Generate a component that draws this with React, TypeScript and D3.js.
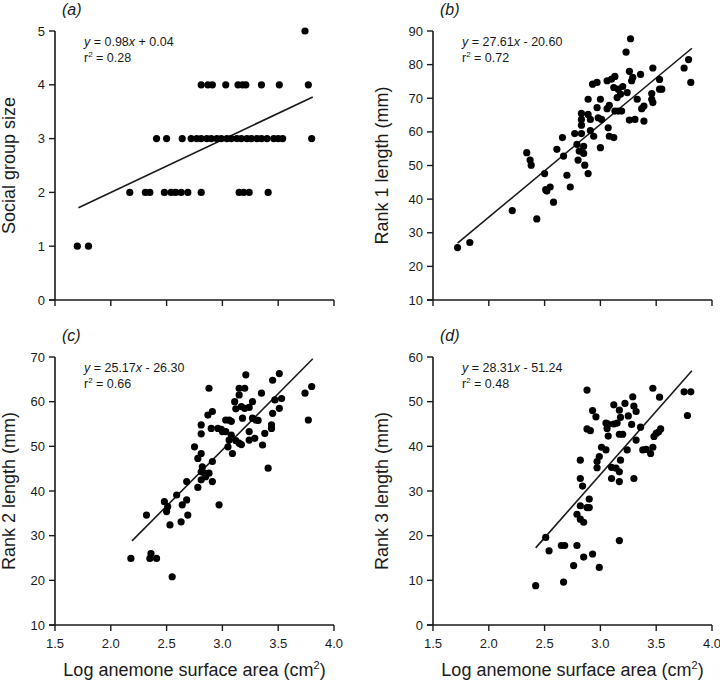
import React from 'react';
import * as d3 from 'd3';

// ---------- data ----------
const xTicks = [1.5, 2.0, 2.5, 3.0, 3.5, 4.0];
const xDomain: [number, number] = [1.5, 4.0];
const xTitle = 'Log anemone surface area (cm';

const panelLabels = ['(a)', '(b)', '(c)', '(d)'];
const yTitles = ['Social group size', 'Rank 1 length (mm)', 'Rank 2 length (mm)', 'Rank 3 length (mm)'];
const yDomains: [number, number][] = [[0, 5], [10, 90], [10, 70], [0, 60]];
const yTicksA = [0, 1, 2, 3, 4, 5];
const yTicksB = [10, 20, 30, 40, 50, 60, 70, 80, 90];
const yTicksC = [10, 20, 30, 40, 50, 60, 70];
const yTicksD = [0, 10, 20, 30, 40, 50, 60];

const slopes = ['0.98', '27.61', '25.17', '28.31'];
const intercepts = ['+ 0.04', '- 20.60', '- 26.30', '- 51.24'];
const slopeVals = [0.98, 27.61, 25.17, 28.31];
const interceptVals = [0.04, -20.6, -26.3, -51.24];
const r2Values = ['0.28', '0.72', '0.66', '0.48'];
const fitRanges: [number, number][] = [[1.71, 3.81], [1.72, 3.82], [2.19, 3.81], [2.42, 3.82]];

const pointsA: [number, number][] = [
  [1.70, 1], [1.80, 1],
  [2.17, 2], [2.31, 2], [2.35, 2], [2.48, 2], [2.54, 2], [2.58, 2], [2.63, 2], [2.69, 2], [2.81, 2],
  [3.15, 2], [3.19, 2], [3.24, 2], [3.41, 2],
  [2.41, 3], [2.50, 3], [2.64, 3], [2.72, 3], [2.77, 3], [2.81, 3], [2.86, 3], [2.90, 3], [2.95, 3],
  [2.99, 3], [3.04, 3], [3.08, 3], [3.13, 3], [3.17, 3], [3.22, 3], [3.26, 3], [3.31, 3], [3.35, 3],
  [3.40, 3], [3.46, 3], [3.50, 3], [3.54, 3], [3.80, 3],
  [2.81, 4], [2.87, 4], [2.91, 4], [3.03, 4], [3.14, 4], [3.18, 4], [3.21, 4], [3.35, 4], [3.51, 4], [3.77, 4],
  [3.74, 5],
];

const pointsB: [number, number][] = [
  [3.27, 87.7], [3.23, 83.7], [3.79, 81.5], [3.75, 79.0], [3.81, 74.7], [3.47, 79.0], [3.26, 78.0],
  [3.29, 76.2], [3.36, 77.1], [3.28, 75.2], [3.53, 75.6], [3.13, 76.5], [3.10, 75.7], [3.06, 75.2],
  [2.97, 74.7], [2.93, 74.2], [3.12, 73.2], [3.16, 72.7], [3.20, 73.5], [3.53, 72.7], [3.55, 72.7],
  [3.24, 71.7], [3.18, 71.2], [3.15, 70.2], [3.33, 69.7], [3.46, 71.4], [3.46, 69.7], [3.47, 68.7],
  [2.89, 69.7], [3.00, 69.7], [3.08, 67.9], [3.13, 66.2], [3.16, 66.2], [3.19, 66.2], [2.97, 67.2],
  [2.83, 65.5], [2.89, 65.2], [2.83, 63.7], [2.91, 63.7], [2.98, 64.2], [3.01, 63.7], [3.06, 66.9],
  [3.39, 67.7], [3.37, 66.9], [3.31, 63.7], [3.26, 63.5], [3.39, 63.2], [2.83, 62.0], [2.91, 60.4],
  [3.07, 61.2], [2.77, 59.5], [2.83, 59.5], [2.66, 58.3], [2.94, 58.7], [3.08, 58.7], [3.12, 58.3],
  [2.79, 56.3], [2.85, 55.7], [3.00, 55.3], [2.61, 54.8], [2.81, 54.3], [2.34, 53.8], [2.67, 52.8],
  [2.37, 51.6], [2.38, 50.1], [2.50, 47.6], [2.80, 51.6], [2.85, 53.6], [2.86, 50.1], [2.89, 47.6],
  [2.70, 47.1], [2.73, 43.6], [2.51, 42.8], [2.52, 42.4], [2.55, 43.6], [2.58, 39.1], [2.21, 36.6],
  [2.43, 34.1], [1.83, 27.1], [1.72, 25.6],
];

const pointsC: [number, number][] = [
  [3.51, 66.3], [3.21, 66.0], [3.45, 64.8], [3.80, 63.4], [3.74, 61.9], [2.88, 63.0], [3.15, 63.0],
  [3.20, 63.0], [3.35, 61.9], [3.15, 61.5], [3.53, 60.7], [3.47, 60.4], [3.11, 60.0], [3.27, 60.0],
  [3.17, 58.9], [3.20, 58.5], [3.12, 58.4], [3.24, 58.7], [3.51, 58.5], [2.91, 57.8], [2.87, 57.0],
  [3.45, 57.4], [3.18, 56.3], [3.03, 55.9], [3.06, 55.9], [3.08, 55.6], [3.27, 56.3], [3.30, 55.9],
  [3.32, 55.8], [3.77, 55.9], [2.81, 54.8], [2.90, 54.0], [2.96, 54.0], [2.99, 53.8], [3.44, 54.8],
  [3.44, 54.0], [3.00, 53.3], [3.03, 53.3], [3.08, 52.5], [2.81, 52.8], [3.24, 53.3], [3.38, 52.9],
  [3.06, 51.4], [3.12, 51.3], [3.15, 50.7], [3.17, 50.4], [3.24, 51.4], [3.29, 51.8], [3.36, 50.3],
  [2.75, 49.9], [3.05, 49.9], [2.81, 48.4], [2.78, 47.3], [3.09, 48.4], [2.91, 46.6], [2.82, 45.4],
  [3.41, 45.1], [2.81, 44.3], [2.84, 44.0], [2.88, 44.0], [2.85, 43.2], [2.81, 42.5], [2.68, 42.1],
  [2.91, 42.1], [2.78, 40.8], [2.59, 39.1], [2.48, 37.6], [2.51, 36.5], [2.50, 35.4], [2.64, 36.9],
  [2.68, 38.0], [2.97, 36.9], [2.32, 34.6], [2.69, 34.6], [2.53, 32.4], [2.63, 33.1], [2.18, 24.9],
  [2.35, 24.9], [2.36, 26.0], [2.41, 24.9], [2.55, 20.8],
];

const pointsD: [number, number][] = [
  [2.88, 52.6], [3.47, 53.0], [3.75, 52.2], [3.81, 52.2], [3.53, 51.0], [3.29, 51.1], [3.22, 49.6],
  [3.12, 49.3], [3.30, 49.0], [3.17, 48.1], [3.32, 47.8], [2.93, 48.0], [3.25, 46.8], [2.96, 46.6],
  [3.18, 46.5], [3.78, 46.9], [3.05, 45.2], [3.07, 45.0], [3.12, 45.0], [3.15, 45.2], [3.28, 44.9],
  [3.06, 44.0], [3.36, 44.3], [2.88, 43.9], [2.91, 43.5], [3.54, 43.9], [3.52, 43.2], [3.07, 42.3],
  [3.17, 42.7], [3.20, 42.7], [3.48, 42.2], [3.50, 42.9], [3.32, 41.4], [3.01, 39.8], [3.05, 39.2],
  [3.24, 39.2], [3.38, 39.2], [3.41, 39.3], [3.47, 39.8], [3.45, 38.4], [2.99, 37.7], [2.82, 36.9],
  [2.97, 36.6], [3.18, 36.9], [2.97, 35.2], [3.10, 35.3], [3.14, 35.1], [3.17, 34.3], [2.82, 32.8],
  [3.10, 32.8], [3.30, 32.8], [3.17, 32.1], [2.84, 31.1], [2.90, 28.2], [2.82, 26.7], [2.88, 26.3],
  [2.90, 26.3], [2.79, 24.8], [2.82, 23.7], [2.85, 23.0], [2.51, 19.6], [3.17, 18.9], [2.54, 16.6],
  [2.65, 17.8], [2.68, 17.8], [2.79, 17.8], [2.93, 15.9], [2.85, 15.2], [2.76, 13.3], [2.99, 12.9],
  [2.67, 9.6], [2.42, 8.8],
];

const allPoints = [pointsA, pointsB, pointsC, pointsD];
const allYTicks = [yTicksA, yTicksB, yTicksC, yTicksD];

// ---------- layout ----------
const W = 720;
const H = 681;
const FONT = '"Liberation Sans", Arial, Helvetica, sans-serif';
const INK = '#1a1a1a';
const colX = [[55, 334], [433, 712]];
const rowY = [[300, 31], [625, 357]];

type PanelProps = { i: number };

function Panel({ i }: PanelProps) {
  const col = i % 2;
  const row = Math.floor(i / 2);
  const [xl, xr] = colX[col];
  const [yb, yt] = rowY[row];
  const x = d3.scaleLinear().domain(xDomain).range([xl, xr]);
  const y = d3.scaleLinear().domain(yDomains[i]).range([yb, yt]);
  const pts = allPoints[i];
  const yTicks = allYTicks[i];
  const showXLabels = row === 1;
  const fit = fitRanges[i];
  const line = d3.line<number>()
    .x((v) => x(v))
    .y((v) => y(slopeVals[i] * v + interceptVals[i]));
  const fmtX = d3.format('.1f');
  const tickLen = 6;
  return (
    <g>
      {/* axes */}
      <line x1={xl} x2={xl} y1={yt} y2={yb} stroke={INK} strokeWidth={1.6} />
      <line x1={xl - tickLen} x2={xr} y1={yb} y2={yb} stroke={INK} strokeWidth={1.6} />
      {yTicks.map((t) => (
        <g key={'y' + t}>
          <line x1={xl - tickLen} x2={xl} y1={y(t)} y2={y(t)} stroke={INK} strokeWidth={1.4} />
          <text x={xl - 10} y={y(t)} dy="0.35em" textAnchor="end" fontSize={13} fill={INK}>{t}</text>
        </g>
      ))}
      {xTicks.map((t) => (
        <g key={'x' + t}>
          <line x1={x(t)} x2={x(t)} y1={yb} y2={yb + tickLen} stroke={INK} strokeWidth={1.4} />
          {showXLabels && (
            <text x={x(t)} y={yb + 23} textAnchor="middle" fontSize={13} fill={INK}>{fmtX(t)}</text>
          )}
        </g>
      ))}
      {/* y title */}
      <text
        transform={`translate(${col === 0 ? 15 : 388},${(yb + yt) / 2}) rotate(-90)`}
        textAnchor="middle"
        fontSize={18}
        fill={INK}
      >
        {yTitles[i]}
      </text>
      {showXLabels && (
        <text x={(xl + xr) / 2} y={yb + 51} textAnchor="middle" fontSize={18} fill={INK}>
          {xTitle}
          <tspan fontSize={11} dy={-7}>2</tspan>
          <tspan dy={7}>)</tspan>
        </text>
      )}
      {/* panel label */}
      <text x={xl + 7} y={yt - 16} fontSize={16} fontStyle="italic" fill={INK}>{panelLabels[i]}</text>
      {/* equation */}
      <text x={xl + 29} y={yt + 15} fontSize={12.5} fill={INK}>
        <tspan fontStyle="italic">y</tspan>
        {` = ${slopes[i]}`}
        <tspan fontStyle="italic">x</tspan>
        {` ${intercepts[i]}`}
      </text>
      <text x={xl + 29} y={yt + 31} fontSize={12.5} fill={INK}>
        r<tspan fontSize={8} dy={-5}>2</tspan>
        <tspan dy={5}>{` = ${r2Values[i]}`}</tspan>
      </text>
      {/* regression line */}
      <path d={line(fit) || ''} fill="none" stroke={INK} strokeWidth={1.6} />
      {/* points */}
      {pts.map((p, k) => (
        <circle key={k} cx={x(p[0])} cy={y(p[1])} r={3.6} fill="#000" />
      ))}
    </g>
  );
}

export default function App() {
  return (
    <svg
      width={W}
      height={H}
      viewBox={`0 0 ${W} ${H}`}
      style={{ position: 'absolute', left: 0, top: 0, background: '#fff' }}
      fontFamily={FONT}
    >
      <rect width={W} height={H} fill="#fff" />
      {[0, 1, 2, 3].map((i) => (
        <Panel key={i} i={i} />
      ))}
    </svg>
  );
}
